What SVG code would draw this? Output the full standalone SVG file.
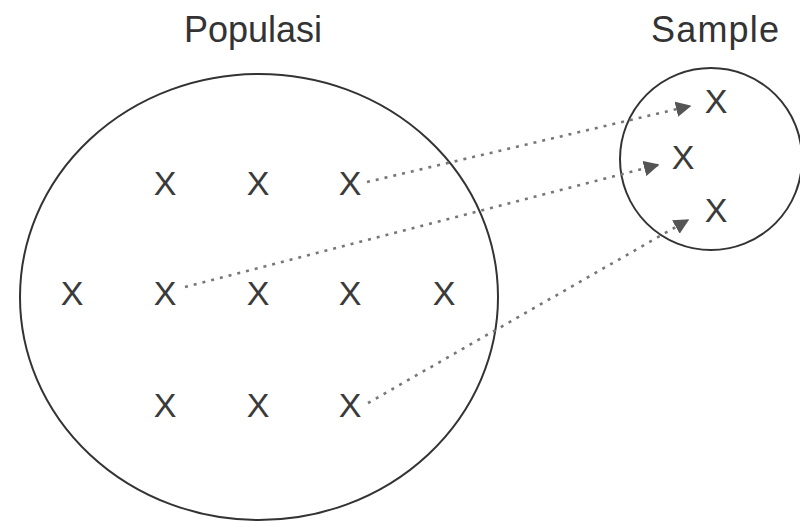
<svg xmlns="http://www.w3.org/2000/svg" width="800" height="521" viewBox="0 0 800 521">
<style>
.ring{fill:none;stroke:#333;stroke-width:2}
.x{font-family:"Liberation Sans",Arial,sans-serif;font-size:34px;fill:#3a3a3a;text-anchor:middle}
.title{font-family:"Liberation Sans",Arial,sans-serif;font-size:36px;fill:#333}
.link{fill:none;stroke:#777;stroke-width:2.6;stroke-dasharray:3 6}
</style>
<defs>
<marker id="arr" viewBox="0 0 10 10" refX="9" refY="5" markerWidth="6" markerHeight="6" markerUnits="strokeWidth" orient="auto">
<path d="M0,0 L10,5 L0,10 z" fill="#555"/>
</marker>
</defs>
<rect width="800" height="521" fill="#fff"/>
<g id="populasi">
<text class="title" x="184" y="42">Populasi</text>
<ellipse class="ring" cx="259" cy="297" rx="239" ry="223"/>
<text class="x" x="165" y="195">X</text>
<text class="x" x="258" y="195">X</text>
<text class="x" x="350" y="195">X</text>
<text class="x" x="72" y="305">X</text>
<text class="x" x="165" y="305">X</text>
<text class="x" x="258" y="305">X</text>
<text class="x" x="350" y="305">X</text>
<text class="x" x="444" y="305">X</text>
<text class="x" x="165" y="417">X</text>
<text class="x" x="258" y="417">X</text>
<text class="x" x="350" y="417">X</text>
</g>
<g id="sample">
<text class="title" x="651" y="42" textLength="128">Sample</text>
<circle class="ring" cx="711" cy="159" r="91"/>
<text class="x" x="716" y="113">X</text>
<text class="x" x="683" y="169">X</text>
<text class="x" x="716" y="222">X</text>
</g>
<g id="connectors">
<line class="link" x1="367" y1="182" x2="690" y2="106" marker-end="url(#arr)"/>
<line class="link" x1="185" y1="287" x2="658" y2="165" marker-end="url(#arr)"/>
<line class="link" x1="368" y1="403" x2="688" y2="220" marker-end="url(#arr)"/>
</g>
</svg>
